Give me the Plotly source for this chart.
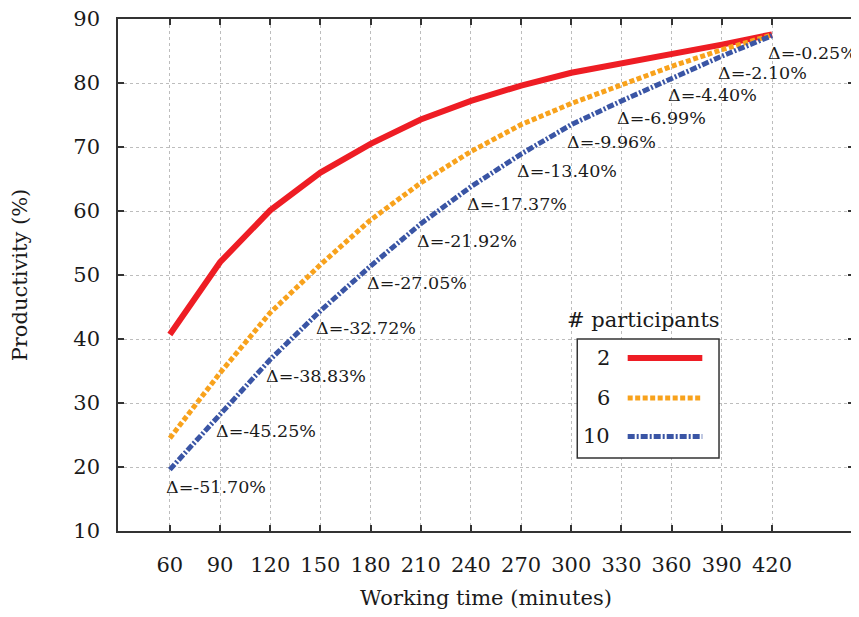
import plotly.graph_objects as go

# ---- data ----
minutes = [60, 90, 120, 150, 180, 210, 240, 270, 300, 330, 360, 390, 420]
prod_2 = [40.7, 52.0, 60.1, 66.0, 70.5, 74.3, 77.2, 79.6, 81.6, 83.0, 84.5, 86.0, 87.6]
prod_6 = [24.5, 34.7, 44.1, 51.6, 58.6, 64.4, 69.3, 73.5, 76.8, 79.8, 82.6, 85.2, 87.5]
prod_10 = [19.6, 28.3, 36.8, 44.4, 51.4, 58.0, 63.8, 68.9, 73.5, 77.2, 80.8, 84.2, 87.4]
deltas = [-51.70, -45.25, -38.83, -32.72, -27.05, -21.92, -17.37, -13.40,
          -9.96, -6.99, -4.40, -2.10, -0.25]
series_names = ["2", "6", "10"]
x_ticks = [60, 90, 120, 150, 180, 210, 240, 270, 300, 330, 360, 390, 420]
y_ticks = [10, 20, 30, 40, 50, 60, 70, 80, 90]

RED = "#EE1D24"
ORANGE = "#F8A21C"
BLUE = "#3A55A5"
FONT = "DejaVu Serif"
TXT = "#1a1a1a"

styles = [
    dict(color=RED, width=6, dash="solid"),
    dict(color=ORANGE, width=5, dash="5px,2.5px"),
    dict(color=BLUE, width=5, dash="7px,2px,2px,2px"),
]

fig = go.Figure()
for name, ys, st in zip(series_names, [prod_2, prod_6, prod_10], styles):
    fig.add_trace(go.Scatter(x=minutes, y=ys, mode="lines", name=name,
                             line=st, showlegend=False))

# delta annotations under the 10-participant curve
for xm, yv, d in zip(minutes, prod_10, deltas):
    fig.add_annotation(x=xm, y=yv, text=f"Δ={d:.2f}%", showarrow=False,
                       xanchor="left", yanchor="middle", xshift=-6, yshift=-17,
                       font=dict(family=FONT, size=17.5, color=TXT))

# manual legend (labels left of samples, title outside the box)
L_X0, L_X1 = 0.624, 0.8166
L_Y0, L_Y1 = 0.1425, 0.3748
entry_y = [0.3377, 0.2596, 0.1847]
fig.add_shape(type="rect", xref="paper", yref="paper", x0=L_X0, x1=L_X1,
              y0=L_Y0, y1=L_Y1, line=dict(color="#333", width=1.5),
              fillcolor="white", layer="above")
for name, st, ey in zip(series_names, styles, entry_y):
    fig.add_shape(type="line", xref="paper", yref="paper", x0=0.6925, x1=0.7939,
                  y0=ey, y1=ey, line=st, layer="above")
    fig.add_annotation(xref="paper", yref="paper", x=0.671, y=ey, text=name,
                       showarrow=False, xanchor="right", yanchor="middle",
                       font=dict(family=FONT, size=21, color=TXT))
fig.add_annotation(xref="paper", yref="paper", x=0.714, y=0.4125,
                   text="# participants", showarrow=False, xanchor="center",
                   yanchor="middle", font=dict(family=FONT, size=21, color=TXT))

axis_common = dict(
    showline=True, linecolor="#333", linewidth=1.5, mirror="ticks",
    ticks="inside", ticklen=6, tickwidth=1.5, tickcolor="#333",
    showgrid=True, gridcolor="#bdbdbd", griddash="dot", gridwidth=1,
    zeroline=False, automargin=False, ticklabeloverflow="allow",
    tickfont=dict(family=FONT, size=21, color=TXT),
)

fig.update_xaxes(range=[29, 469], tickvals=x_ticks,
                 ticktext=[str(v) for v in x_ticks], ticklabelstandoff=14,
                 title=dict(text="Working time (minutes)", standoff=14,
                            font=dict(family=FONT, size=21, color=TXT)),
                 **axis_common)
fig.update_yaxes(range=[10, 90], tickvals=y_ticks,
                 ticktext=[str(v) for v in y_ticks], ticklabelstandoff=12,
                 title=dict(text="Productivity (%)", standoff=41,
                            font=dict(family=FONT, size=21, color=TXT)),
                 **axis_common)

# the page adds an 8px body margin, so the figure is 8px smaller
fig.update_layout(
    width=851, height=609,
    margin=dict(l=110, r=5, t=11, b=86),
    plot_bgcolor="white", paper_bgcolor="white",
    font=dict(family=FONT, color=TXT),
)

fig.write_html("out.html")
